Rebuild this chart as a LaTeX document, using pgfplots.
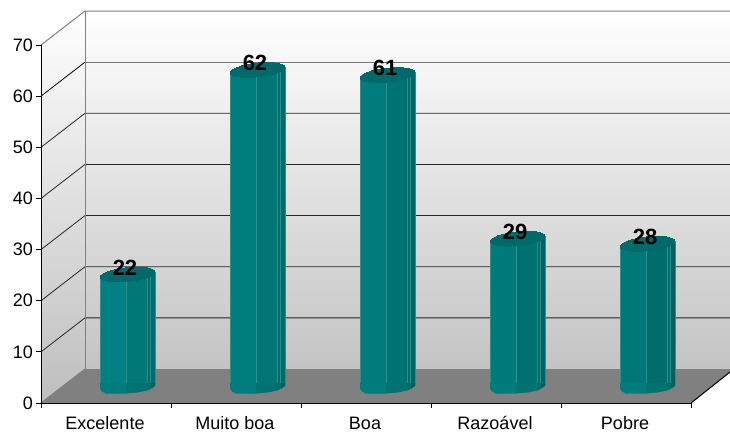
\documentclass[border=0pt]{standalone}
\usepackage{pgfplots}
\usepackage{pgfplotstable}
\usepackage{fontspec}
\setmainfont{Liberation Sans}
\pgfplotsset{compat=1.18}
\pgfplotstableread{
x v b
0.5 22 0
1.5 62 0
2.5 61 0
3.5 29 0
4.5 28 0
}\bars
\definecolor{wallB}{HTML}{BEBEBE}
\definecolor{capC}{HTML}{006A6A}
\definecolor{edgeC}{HTML}{2A8F8F}
\definecolor{tealA}{HTML}{008080}
\definecolor{tealB}{HTML}{007878}
\definecolor{tealL}{HTML}{007C7C}
\definecolor{tealM}{HTML}{007272}
\definecolor{tealC}{HTML}{006C6C}
\definecolor{tealD}{HTML}{006060}
\newcommand\pp[2]{\pgfqpoint{#1pt}{#2pt}}
\pgfdeclareplotmark{cylbase}{%
  \pgfsetfillcolor{tealL}%
  \pgfpathmoveto{\pp{-27.5}{4}}\pgfpathlineto{\pp{-27.5}{-0.5}}\pgfpathlineto{\pp{-26}{-4}}\pgfpathlineto{\pp{-22}{-6.5}}\pgfpathlineto{\pp{-1.5}{-6.5}}\pgfpathlineto{\pp{-1.5}{4}}\pgfpathclose\pgfusepathqfill
  \pgfsetfillcolor{tealM}%
  \pgfpathmoveto{\pp{-1.5}{4}}\pgfpathlineto{\pp{-1.5}{-6.5}}\pgfpathlineto{\pp{10}{-5.5}}\pgfpathlineto{\pp{19.5}{-3.5}}\pgfpathlineto{\pp{19.5}{4}}\pgfpathclose\pgfusepathqfill
  \pgfsetfillcolor{tealC}%
  \pgfpathmoveto{\pp{19.5}{4}}\pgfpathlineto{\pp{19.5}{-3.5}}\pgfpathlineto{\pp{23}{-2}}\pgfpathlineto{\pp{23}{4}}\pgfpathclose\pgfusepathqfill
  \pgfsetfillcolor{tealD}%
  \pgfpathmoveto{\pp{23}{4}}\pgfpathlineto{\pp{23}{-2}}\pgfpathlineto{\pp{27.5}{1}}\pgfpathlineto{\pp{27.5}{4}}\pgfpathclose\pgfusepathqfill
}
\newcommand\strip[5]{% shift, width, yoffset, left colour, right colour
  \addplot[ybar,bar shift=#1pt,bar width=#2pt,yshift=#3pt,left color={#4},right color={#5},draw=edgeC,line width=0.35pt] table[x=x,y=v]{\bars};}
\begin{document}
\begin{tikzpicture}
\useasboundingbox (-41pt,-29pt) rectangle (689pt,403pt);
\begin{axis}[
  at={(0pt,0pt)},anchor=south west,
  scale only axis,width=650pt,height=358pt,
  xmin=0,xmax=5,ymin=0,ymax=70,clip=false,
  axis on top,
  axis x line*=bottom,axis y line*=left,
  axis line style={-,black,line width=1pt},
  tick align=outside,major tick length=5pt,
  every tick/.style={black,line width=1pt},
  xtick={0,1,2,3,4,5},
  xticklabels={Excelente,Muito boa,Boa,Razoável,Pobre},
  x tick label as interval=true,
  ytick={0,10,...,70},
  /pgf/number format/assume math mode=true,
  tick label style={font=\fontsize{18}{20}\selectfont,black},
  xticklabel style={yshift=-8pt,xshift=-1pt,text height=13pt,text depth=0pt,inner sep=0pt,outer sep=0pt},
  yticklabel style={xshift=0.5pt},
]
% back and side walls
\path[top color=white,bottom color=wallB] (axis cs:0,0) ++(44pt,34pt) rectangle ++(645pt,358pt);
\path[top color=white,bottom color=wallB] (axis cs:0,0) -- ++(44pt,34pt) -- ++(0,358pt) -- ++(-44pt,-34pt) -- cycle;
% floor
\fill[black!50] (axis cs:0,0) -- ++(44pt,34pt) -- ++(645pt,0) -- ++(0,-3.5pt) -- (axis cs:5,0) -- cycle;
\draw[black,line width=1pt] (axis cs:5,0) -- ++(39pt,31pt);
% grid lines
\pgfplotsinvokeforeach{10,20,30,40,50}{
  \draw[black!85,line width=0.8pt] (axis cs:0,#1) -- ++(44pt,34pt) -- ++(645pt,0);
}
\draw[black,line width=0.8pt] (axis cs:0,60) -- ++(44pt,34pt);
\draw[black!55,line width=1pt] (axis cs:0,60) ++(44pt,34pt) -- ++(645pt,0);
\draw[black!50,line width=1pt] (axis cs:0,70) -- ++(44pt,34pt) -- ++(645pt,0);
\draw[black!50,line width=1pt] (axis cs:0,0) ++(44pt,34pt) -- ++(0,358pt);
\draw[black!50,line width=1pt] (axis cs:0,0) -- ++(44pt,34pt);
\end{axis}
\begin{axis}[
  at={(21.5pt,16pt)},anchor=south west,
  scale only axis,width=650pt,height=358pt,
  xmin=0,xmax=5,ymin=0,ymax=70,clip=false,hide axis,
]
\addplot[only marks,mark=cylbase] table[x=x,y=b]{\bars};
\strip{-14.5}{26}{-2.5}{tealA}{tealB}
\strip{9}{21}{0.5}{tealB}{tealC}
\strip{21.25}{3.5}{1.5}{tealC}{tealC}
\strip{25.25}{4.5}{2.5}{tealC}{tealD}
\addplot[only marks,mark=*,mark size=27.5pt,mark options={rotate=6,yscale=.25,line width=0pt,draw=capC,fill=capC},
  nodes near coords={\bfseries\pgfmathprintnumber[assume math mode=true]{\pgfplotspointmeta}},
  nodes near coords style={font=\fontsize{22}{24}\selectfont,anchor=center,yshift=7pt,xshift=-2.5pt,black}] table[x=x,y=v]{\bars};
\end{axis}
\end{tikzpicture}
\end{document}
